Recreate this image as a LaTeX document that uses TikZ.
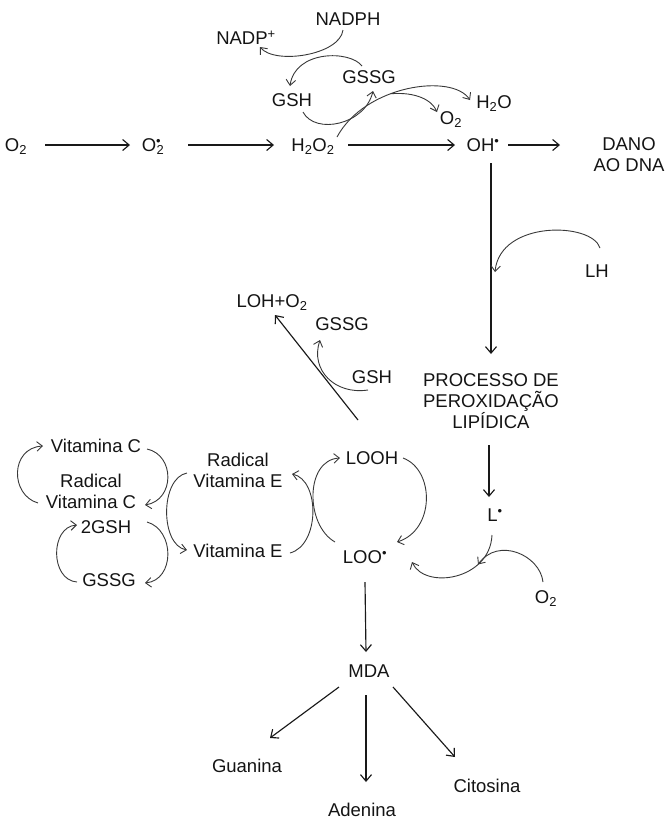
\documentclass[tikz,border=0pt]{standalone}
\usepackage{fontspec}
\setmainfont{Liberation Sans}
\usetikzlibrary{arrows.meta}
\newcommand{\rad}{\textsuperscript{•}}
\begin{document}
\begin{tikzpicture}[x=1pt,y=-1pt,
  every node/.style={font=\fontsize{18.5}{21}\selectfont, text=black!92},
  lbl/.style={inner sep=0pt, text height=13pt, text depth=0pt},
  ml/.style={inner sep=0pt, align=center, anchor=north},
  arr/.style={draw=black!90, line width=1.15pt, -{Straight Barb[length=6.5pt,width=11pt]}},
  carr/.style={draw=black!78, line width=0.9pt, -{Straight Barb[length=5.5pt,width=9.5pt]}},
  cline/.style={draw=black!78, line width=0.9pt}]
\useasboundingbox (0,0) rectangle (667,820);

% top section
\node[lbl] (nadph) at (348,19) {NADPH};
\node[lbl] (nadp) at (246,38) {NADP\textsuperscript{+}};
\node[lbl] (gssgT) at (369,77) {GSSG};
\node[lbl] (gshT) at (292,100) {GSH};
\node[lbl] (h2oT) at (494,102) {H\textsubscript{2}O};
\node[lbl] (o2T) at (451,118) {O\textsubscript{2}};

% main row
\node[lbl] (o2) at (16,145) {O\textsubscript{2}};
\node[lbl] (o2r) at (153,145) {O\textsuperscript{•}\kern-0.25em\textsubscript{2}};
\node[lbl] (h2o2) at (313,145) {H\textsubscript{2}O\textsubscript{2}};
\node[lbl] (oh) at (483,145) {OH\rad};
\node[ml] (dano) at (629,137) {DANO\\AO DNA};

% middle
\node[lbl] (lh) at (597,271) {LH};
\node[lbl] (lohO2) at (272,301) {LOH+O\textsubscript{2}};
\node[lbl] (gssgM) at (342,324) {GSSG};
\node[lbl] (gshM) at (372,377) {GSH};
\node[ml] (proc) at (491,373) {PROCESSO DE\\PEROXIDAÇÃO\\LIPÍDICA};
\node[lbl] (L) at (495,515) {L\rad};

% antioxidant cycles
\node[lbl] (vitC) at (96,446) {Vitamina C};
\node[ml] (radC) at (91,474) {Radical\\Vitamina C};
\node[lbl] (gsh2) at (106,527) {2GSH};
\node[lbl] (gssgL) at (109,580) {GSSG};
\node[ml] (radE) at (238,453) {Radical\\Vitamina E};
\node[lbl] (vitE) at (238,551) {Vitamina E};
\node[lbl] (looh) at (372,458) {LOOH};
\node[lbl] (loo) at (365,557) {LOO\rad};
\node[lbl] (o2B) at (546,597) {O\textsubscript{2}};

% bottom
\node[lbl] (mda) at (369,671) {MDA};
\node[lbl] (gua) at (247,766) {Guanina};
\node[lbl] (ade) at (362,810) {Adenina};
\node[lbl] (cit) at (487,786) {Citosina};

% straight arrows
\draw[arr] ([shift={(29,0)}]o2.center) -- ([shift={(-23,0)}]o2r.center);
\draw[arr] ([shift={(35,0)}]o2r.center) -- ([shift={(-39,0)}]h2o2.center);
\draw[arr] ([shift={(35,0)}]h2o2.center) -- ([shift={(-28,0)}]oh.center);
\draw[arr] ([shift={(25,0)}]oh.center) -- ([shift={(-69,8)}]dano.north);
\draw[arr] ([shift={(8,18)}]oh.center) -- ([shift={(0,-19)}]proc.north);
\draw[arr] ([shift={(-2,72)}]proc.north) -- ([shift={(-6,-18)}]L.center);
\draw[arr] ([shift={(0,25)}]loo.center) -- ([shift={(-3,-19)}]mda.center);
\draw[arr] ([shift={(-30,16)}]mda.center) -- ([shift={(23,-28)}]gua.center);
\draw[arr] ([shift={(-3,24)}]mda.center) -- ([shift={(4,-28)}]ade.center);
\draw[arr] ([shift={(24,16)}]mda.center) -- ([shift={(-32,-29)}]cit.center);
\draw[arr] ([shift={(-14,-38)}]looh.center) -- ([shift={(3,14)}]lohO2.center);

% top curves
\draw[carr] ([shift={(-5,11)}]nadph.center) .. controls +(-3,25) and +(15,18) .. ([shift={(14,9)}]nadp.center);
\draw[carr] ([shift={(-7,-11)}]gssgT.center) .. controls +(-12,-16) and +(5,-36) .. ([shift={(-2,-14)}]gshT.center);
\draw[carr] ([shift={(11,12)}]gshT.center) .. controls +(12,23) and +(-8,34) .. ([shift={(4,14)}]gssgT.center);
\draw[carr] ([shift={(24,-8)}]h2o2.center) .. controls +(28,-52) and +(-18,-27) .. coordinate[pos=0.4] (br) ([shift={(-24,-2)}]h2oT.center);
\draw[carr] (br) .. controls +(25,-2) and +(-5,-12) .. ([shift={(-14,-6)}]o2T.center);

% LH
\coordinate (lhT) at (495,272);
\draw[carr] ([shift={(3,-23)}]lh.center) .. controls +(-8,-26) and +(5,-52) .. (lhT);

% GSH -> GSSG (middle)
\draw[carr] ([shift={(-4,13)}]gshM.center) .. controls +(-33,5) and +(-10,30) .. ([shift={(-22,16)}]gssgM.center);

% vitamin C cycle
\draw[carr] ([shift={(-53,29)}]radC.north) .. controls +(-28,-8) and +(-33,2) .. ([shift={(-53,0)}]vitC.center);
\draw[carr] ([shift={(51,3)}]vitC.center) .. controls +(28,6) and +(30,-5) .. ([shift={(54,31)}]radC.north);
% glutathione cycle
\draw[carr] ([shift={(-32,2)}]gssgL.center) .. controls +(-27,-2) and +(-27,2) .. ([shift={(-29,-2)}]gsh2.center);
\draw[carr] ([shift={(41,-5)}]gsh2.center) .. controls +(28,8) and +(30,-3) .. ([shift={(36,3)}]gssgL.center);
% vitamin E cycle
\draw[carr] ([shift={(-51,20)}]radE.north) .. controls +(-27,5) and +(-27,-5) .. ([shift={(-51,-1)}]vitE.center);
\draw[carr] ([shift={(52,2)}]vitE.center) .. controls +(30,-8) and +(28,6) .. ([shift={(54,21)}]radE.north);
% LOO / LOOH cycle
\draw[carr] ([shift={(-30,-15)}]loo.center) .. controls +(-30,-17) and +(-35,2) .. ([shift={(-32,0)}]looh.center);
\draw[carr] ([shift={(31,0)}]looh.center) .. controls +(32,12) and +(38,-12) .. ([shift={(32,-15)}]loo.center);
% L -> LOO with O2
\draw[carr] ([shift={(-3,20)}]L.center) .. controls +(-2,45) and +(13,28) .. coordinate[pos=0.28] (lo) ([shift={(47,5)}]loo.center);
\draw[carr] ([shift={(-3,-15)}]o2B.center) .. controls +(-3,-27) and +(20,-28) .. (lo);
\end{tikzpicture}
\end{document}
